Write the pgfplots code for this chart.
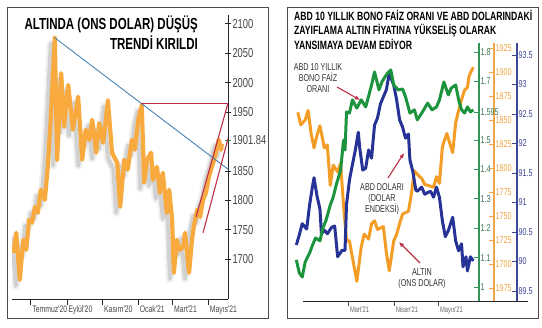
\documentclass[border=0pt]{standalone}
\usepackage{pgfplots}
\pgfplotsset{compat=1.18}
\usepackage{pgfplotstable}
\usepackage{fontspec}
\setmainfont{Liberation Sans}
\newfontfamily\cond[FakeStretch=0.72]{Liberation Sans}
\usetikzlibrary{arrows.meta}
\definecolor{goldL}{RGB}{248,170,62}
\definecolor{goldR}{RGB}{244,157,38}
\definecolor{grn}{RGB}{28,148,62}
\definecolor{nvy}{RGB}{38,50,150}
\definecolor{redl}{RGB}{190,45,70}
\definecolor{bluel}{RGB}{70,130,180}
\definecolor{txt}{RGB}{70,70,70}
\definecolor{grnax}{RGB}{50,150,90}
\definecolor{grntx}{RGB}{60,120,80}
\definecolor{orax}{RGB}{240,165,70}
\definecolor{nvax}{RGB}{60,70,150}

\pgfplotstableread{
d v
0 1711
5 1745
11 1665
17 1733
22 1716
27 1767
32 1762
37 1789
42 1779
47 1818
54 1801
59 1857
64 1937
71 2076
75 1869
82 2016
87 1925
94 1996
102 1920
111 1976
118 1869
124 1920
130 1903
135 1937
142 1881
147 1931
154 1898
162 1970
169 1881
178 1864
183 1789
190 1869
196 1852
203 1903
208 1886
214 1937
220 1962
224 1830
229 1869
236 1881
239 1835
246 1857
251 1813
256 1847
263 1779
267 1818
272 1767
275 1677
280 1733
285 1716
291 1721
294 1745
301 1677
306 1733
309 1755
315 1784
320 1772
325 1801
330 1813
335 1840
340 1857
344 1869
349 1891
352 1903
356 1886
357 1896
}\goldtab

\pgfplotstableread{
d o
25 1858
27 1845
30 1850
32 1860
34 1836
36 1821
38 1834
40 1844
43 1821
45 1824
47 1782
49 1803
52 1796
54 1805
56 1761
58 1725
60 1724
62 1707
65 1682
68 1718
70 1731
73 1726
75 1742
77 1745
79 1736
83 1739
85 1712
87 1693
90 1724
92 1731
94 1742
96 1752
100 1755
102 1773
104 1797
107 1792
109 1789
111 1783
115 1781
117 1780
119 1791
121 1784
123 1822
126 1836
128 1826
130 1816
132 1847
134 1860
136 1871
138 1881
140 1884
141 1895
142 1899
144 1905
}\ortab

\pgfplotstableread{
d g
24 1.092
26 1.048
28 1.034
30 1.085
33 1.116
35 1.143
37 1.167
40 1.157
42 1.201
44 1.225
47 1.279
49 1.306
51 1.347
54 1.398
56 1.500
57 1.466
58 1.596
60 1.592
62 1.637
65 1.609
68 1.637
71 1.613
73 1.650
75 1.688
77 1.732
80 1.671
82 1.698
84 1.715
86 1.729
88 1.739
90 1.688
93 1.671
96 1.674
98 1.647
101 1.592
104 1.603
106 1.569
109 1.592
113 1.626
116 1.603
119 1.613
121 1.637
124 1.698
127 1.654
129 1.677
132 1.688
134 1.637
136 1.603
138 1.592
140 1.613
142 1.596
144 1.603
}\grtab

\pgfplotstableread{
d n
24 90.28
26 90.45
28 90.64
31 90.55
33 90.96
35 91.28
36 91.42
38 91.11
40 90.89
41 90.47
43 90.53
45 90.47
48 90.58
50 90.60
52 90.08
55 90.19
57 90.19
58 90.96
60 91.38
62 91.64
64 91.89
66 92.19
67 91.92
69 91.55
71 91.58
73 91.89
75 91.75
77 92.31
79 92.43
81 92.67
83 92.79
85 92.91
87 93.19
90 92.99
92 92.74
94 92.40
96 92.28
98 92.09
100 92.16
101 91.72
103 91.52
105 91.21
106 91.19
109 91.26
111 91.14
115 91.19
117 91.09
119 91.26
121 91.09
123 90.69
125 90.42
127 90.52
130 90.75
132 90.35
134 90.18
136 90.30
137 89.91
139 90.08
140 89.84
142 90.08
144 90.01
}\nvtab

\pgfplotsset{
  rightax/.style={
    scale only axis, anchor=south west, height=258bp,
    axis x line=none, axis y line=right,
    tick align=inside, major tick length=5bp,
    yticklabel style={font={\cond\fontsize{10bp}{10bp}\selectfont}, xshift=-2bp},
  }
}

\begin{document}
\begin{tikzpicture}
\path[use as bounding box] (0,0) rectangle (542bp,328bp);
\draw[black!70, line width=0.8bp] (7bp,10bp) rectangle (268bp,321bp);
\draw[black!70, line width=0.8bp] (287bp,10bp) rectangle (538bp,321bp);

% ---------------- left panel ----------------
\begin{axis}[
  scale only axis, anchor=south west, at={(12bp,29bp)},
  width=216bp, height=284bp,
  xmin=-2.3, xmax=367.7, ymin=1632.7, ymax=2114.7,
  axis x line=bottom, axis y line=right,
  axis line style={-, black!85, line width=0.9bp},
  xtick={30,92,153,214,273,334},
  xticklabels={Temmuz'20,Eylül'20,Kasım'20,Ocak'21,Mart'21,Mayıs'21},
  ytick={1700,1750,1800,1850,1950,2000,2050,2100},
  yticklabels={1700,1750,1800,1850,1950,2000,2050,2100},
  extra y ticks={1901.84}, extra y tick labels={1901.84},
  extra y tick style={tick style={grn, line width=1.2bp}},
  tick align=center, major tick length=6bp,
  tick style={black!85, line width=0.8bp},
  xtick style={yshift=-3bp},
  xticklabel style={font={\cond\fontsize{9.5bp}{9.5bp}\selectfont}, text=txt, anchor=north west, xshift=-2bp, yshift=0bp},
  yticklabel style={font={\cond\fontsize{13bp}{13bp}\selectfont}, text=txt, xshift=-2bp},
]
\addplot[black, opacity=0.06, line width=8bp, line join=round, shift={(-4bp,-6bp)}] table[x=d,y=v] {\goldtab};
\addplot[black, opacity=0.13, line width=4bp, line join=round, shift={(-4bp,-6bp)}] table[x=d,y=v] {\goldtab};
\addplot[goldL, line width=4.2bp, line join=round] table[x=d,y=v] {\goldtab};
\addplot[bluel, line width=0.9bp] coordinates {(71,2076) (367.7,1853)};
\addplot[redl, line width=1.1bp] coordinates {(219,1965) (367.7,1965)};
\addplot[redl, line width=1.1bp] coordinates {(313,1772) (367.7,1965)};
\addplot[redl, line width=1.1bp] coordinates {(325,1745) (367.7,1905)};
\end{axis}
\node[anchor=north east, align=right, font={\cond\bfseries\fontsize{16bp}{20bp}\selectfont}, inner sep=0pt] at (198bp,312bp)
  {ALTINDA (ONS DOLAR) DÜŞÜŞ\\TRENDİ KIRILDI};

% ---------------- right panel ----------------
\begin{axis}[
  scale only axis, anchor=south west, at={(303bp,27bp)},
  width=225bp, height=258bp,
  xmin=28.5, xmax=181, ymin=0, ymax=1,
  axis x line=bottom, axis y line=none,
  axis line style={-, black!85, line width=0.9bp},
  xtick={59,90,120}, xticklabels={Mart'21,Nisan'21,Mayıs'21},
  tick align=center, major tick length=5bp,
  xtick style={yshift=-2.5bp, black!70},
  xticklabel style={font={\cond\fontsize{8bp}{8bp}\selectfont}, text=black!60, anchor=north west, xshift=-1.5bp},
]
\addplot[draw=none] coordinates {(59,0.5)};
\end{axis}

\begin{axis}[rightax, at={(290bp,27bp)}, width=204bp,
  xmin=19.7, xmax=158.0, ymin=1661.5, ymax=1930.2,
  axis line style={-, orax, line width=1.1bp},
  ytick={1675,1700,...,1925},
  yticklabels={1975,1700,1725,1750,1775,1800,1825,1850,1875,1900,1925},
  tick style={orax, line width=0.9bp}, yticklabel style={text=orax}]
\addplot[goldR, line width=3bp, line join=round] table[x=d,y=o] {\ortab};
\end{axis}

\begin{axis}[rightax, at={(290bp,27bp)}, width=227bp,
  xmin=19.7, xmax=173.6, ymin=89.33, ymax=93.703,
  axis line style={-, nvax, line width=1.1bp},
  ytick={89.5,90,...,93.5},
  yticklabels={89.5,90,90.5,91,91.5,92,92.5,93,93.5},
  tick style={nvax, line width=0.9bp}, yticklabel style={text=nvax}]
\addplot[nvy, line width=3bp, line join=round] table[x=d,y=n] {\nvtab};
\end{axis}

\begin{axis}[rightax, at={(290bp,27bp)}, width=189bp,
  xmin=19.7, xmax=147.8, ymin=0.9523, ymax=1.8306,
  axis line style={-, grnax, line width=1.1bp},
  ytick={1,1.1,1.2,1.3,1.4,1.5,1.595,1.7,1.8},
  yticklabels={1,1.1,1.2,1.3,1.4,1.5,1.595,1.7,1.8},
  tick style={grnax, line width=0.9bp}, yticklabel style={text=grntx}]
\addplot[grn, line width=3bp, line join=round] table[x=d,y=g] {\grtab};
\end{axis}

\node[anchor=north west, align=left, font={\cond\bfseries\fontsize{12bp}{14.5bp}\selectfont}, inner sep=0pt] at (294bp,318bp)
  {ABD 10 YILLIK BONO FAİZ ORANI VE ABD DOLARINDAKİ\\ZAYIFLAMA ALTIN FİYATINA YÜKSELİŞ OLARAK\\YANSIMAYA DEVAM EDİYOR};

\node[anchor=north, align=center, text=black!80, font={\cond\fontsize{10bp}{11bp}\selectfont}, inner sep=0pt] at (318bp,265bp)
  {ABD 10 YILLIK\\BONO FAİZ\\ORANI};
\draw[redl, line width=1.1bp, -{Latex[length=5bp,width=4.5bp]}] (337bp,241bp) -- (360bp,228bp);

\node[anchor=north, align=center, text=black!80, font={\cond\fontsize{10bp}{11bp}\selectfont}, inner sep=0pt] at (382bp,145bp)
  {ABD DOLARI\\(DOLAR\\ENDEKSİ)};
\draw[redl, line width=1.1bp, -{Latex[length=5bp,width=4.5bp]}] (388bp,150bp) -- (404bp,175bp);

\node[anchor=north, align=center, text=black!80, font={\cond\fontsize{10bp}{11bp}\selectfont}, inner sep=0pt] at (422bp,60bp)
  {ALTIN\\(ONS DOLAR)};
\draw[redl, line width=1.1bp, -{Latex[length=5bp,width=4.5bp]}] (420bp,65bp) -- (399bp,86bp);
\end{tikzpicture}
\end{document}
